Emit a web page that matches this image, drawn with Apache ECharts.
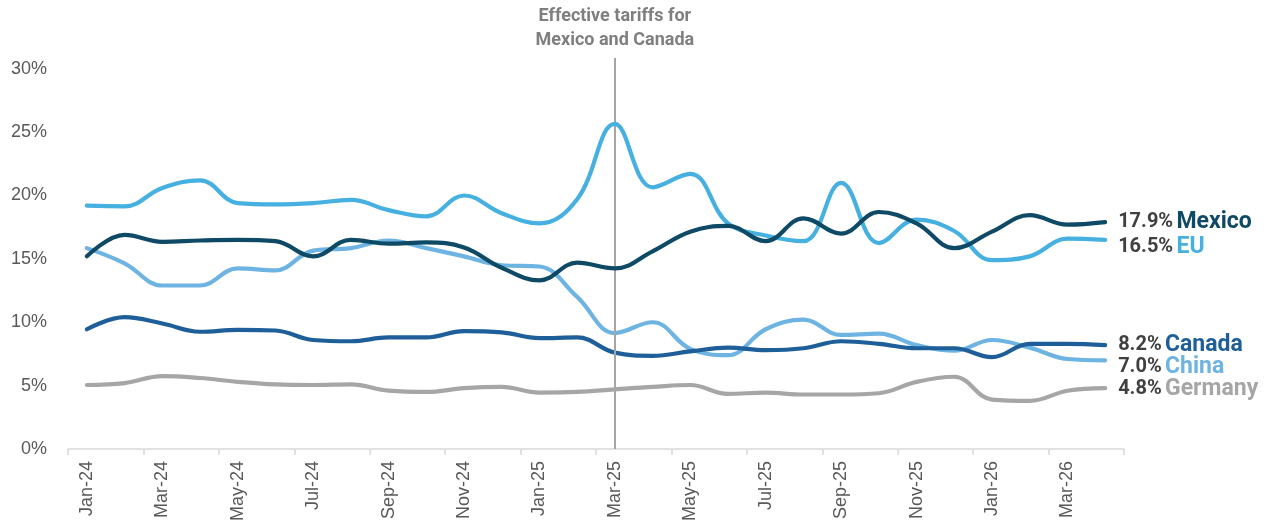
<!DOCTYPE html>
<html><head><meta charset="utf-8">
<script src="https://cdn.jsdelivr.net/npm/echarts@6/dist/echarts.min.js"></script>
<style>html,body{margin:0;padding:0;background:#fff}#c{width:1274px;height:527px}</style>
</head><body><div id="c"></div><script>
const categories = ['Jan-24','Feb-24','Mar-24','Apr-24','May-24','Jun-24','Jul-24','Aug-24','Sep-24','Oct-24','Nov-24','Dec-24','Jan-25','Feb-25','Mar-25','Apr-25','May-25','Jun-25','Jul-25','Aug-25','Sep-25','Oct-25','Nov-25','Dec-25','Jan-26','Feb-26','Mar-26','Apr-26'];
const mexico  = [15.2,16.9,16.35,16.45,16.5,16.4,15.2,16.5,16.2,16.3,15.9,14.3,13.3,14.7,14.25,15.6,17.15,17.6,16.4,18.2,17.0,18.7,17.8,15.85,17.15,18.45,17.7,17.9];
const eu      = [19.2,19.15,20.6,21.2,19.4,19.3,19.4,19.65,18.85,18.35,20.0,18.6,17.8,19.7,25.65,20.65,21.7,17.8,16.85,16.4,21.0,16.25,18.1,17.2,14.9,15.2,16.6,16.5];
const canada  = [9.45,10.4,9.9,9.25,9.4,9.35,8.6,8.5,8.8,8.8,9.3,9.2,8.75,8.8,7.6,7.35,7.7,8.0,7.8,7.95,8.5,8.3,7.95,7.95,7.25,8.3,8.3,8.2];
const china   = [15.85,14.65,12.9,12.9,14.25,14.1,15.65,15.85,16.45,15.85,15.2,14.5,14.4,12.0,9.15,10.0,7.9,7.4,9.45,10.2,9.0,9.1,8.2,7.75,8.6,8.0,7.1,7.0];
const germany = [5.05,5.2,5.75,5.6,5.3,5.1,5.05,5.1,4.6,4.5,4.8,4.9,4.45,4.5,4.7,4.9,5.05,4.35,4.45,4.3,4.3,4.4,5.3,5.7,3.9,3.8,4.6,4.8];
const yTicks = [0,5,10,15,20,25,30];
const yTop = 30.85;            // axis headroom so the event line can rise above 30%
const eventCategory = 'Mar-25';
const eventText = 'Effective tariffs for\nMexico and Canada';

const chart = echarts.init(document.getElementById('c'), null, {renderer:'canvas'});

function mkSeries(name, data, color, offsetY, z) {
  return {
    name, type:'line', data, smooth:0.4, symbol:'none', z,
    lineStyle:{color, width:4.2, cap:'round', join:'round'},
    itemStyle:{color},
    emphasis:{disabled:true},
    endLabel:{
      show:true, distance:13, offset:[0, offsetY],
      formatter: p => '{v|' + p.value.toFixed(1) + '%} {n|' + name + '}',
      rich:{
        v:{fontFamily:'Roboto', fontWeight:'bold', fontSize:20, color:'#404040'},
        n:{fontFamily:'Roboto', fontWeight:'bold', fontSize:23, color}
      }
    }
  };
}

const series = [
  mkSeries('Germany', germany, '#A6A6A6', 1, 2),
  mkSeries('China', china, '#6EB4E2', 7, 3),
  mkSeries('Canada', canada, '#1F5F99', 0, 4),
  mkSeries('EU', eu, '#46B0E1', 7, 5),
  mkSeries('Mexico', mexico, '#0E4A66', 0, 6)
];
series[0].markLine = {
  silent:true, symbol:['none','none'], animation:false,
  lineStyle:{color:'#A6A6A6', width:2, type:'solid'},
  label:{show:true, position:'end', distance:6, formatter:eventText,
    fontFamily:'Roboto', fontWeight:'bold', fontSize:18, lineHeight:24, color:'#7F7F7F', align:'center'},
  data:[[{coord:[eventCategory, 0]}, {coord:[eventCategory, yTop]}]]
};
series[0].z = 1;

chart.setOption({
  animation:false,
  backgroundColor:'#fff',
  grid:{left:68, right:150, top:58, bottom:78, containLabel:false},
  xAxis:{
    type:'category', data:categories, boundaryGap:true,
    axisLine:{show:true, lineStyle:{color:'#D9D9D9', width:1.5}},
    axisTick:{show:true, interval:1, length:6, lineStyle:{color:'#D9D9D9', width:1.5}},
    axisLabel:{interval:1, rotate:90, margin:12, fontFamily:'Liberation Sans', fontSize:18, color:'#595959'},
    splitLine:{show:false}
  },
  yAxis:{
    type:'value', min:yTicks[0], max:yTop, interval:5,
    axisLine:{show:false}, axisTick:{show:false}, splitLine:{show:false},
    axisLabel:{formatter: v => yTicks.includes(v) ? v + '%' : '', margin:21, fontFamily:'Liberation Sans', fontSize:18, color:'#595959'}
  },
  series
});
</script></body></html>
